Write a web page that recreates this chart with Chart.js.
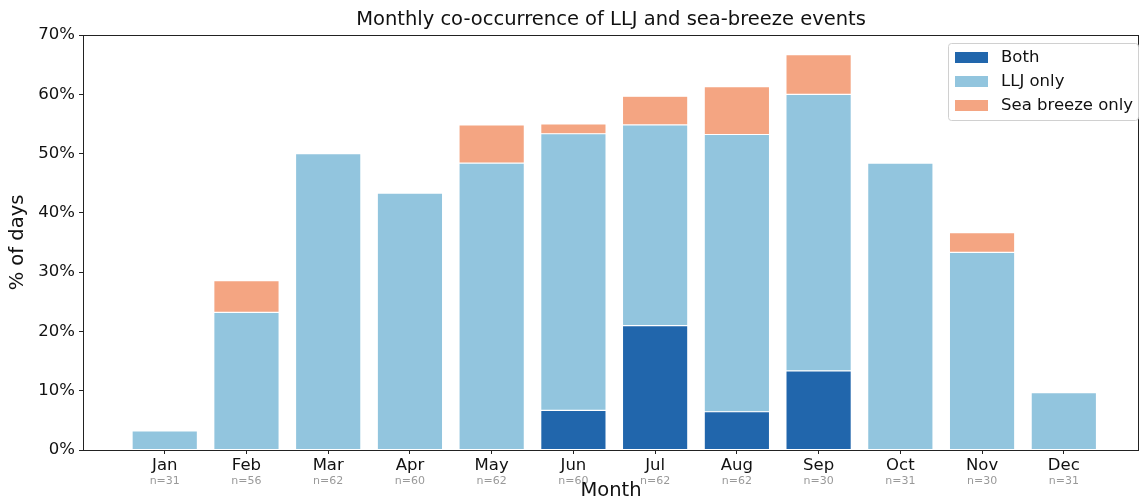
<!DOCTYPE html>
<html>
<head>
<meta charset="utf-8">
<script src="https://cdn.jsdelivr.net/npm/chart.js@4/dist/chart.umd.min.js"></script>
<style>
  html, body { margin: 0; padding: 0; background: #fff; }
  #wrap { width: 1140px; height: 501px; }
</style>
</head>
<body>
<div id="wrap"><canvas id="grafico" width="1140" height="501"></canvas></div>
<script>
// ---- dados ----
const meses = ['Jan','Feb','Mar','Apr','May','Jun','Jul','Aug','Sep','Oct','Nov','Dec'];
const nDias = [31, 56, 62, 60, 62, 60, 62, 62, 30, 31, 30, 31];
const ambos = [0, 0, 0, 0, 0, 6.67, 20.97, 6.45, 13.33, 0, 0, 0];
const soLLJ = [3.23, 23.21, 50.0, 43.33, 48.39, 46.67, 33.87, 46.77, 46.67, 48.39, 33.33, 9.68];
const soBrisa = [0, 5.36, 0, 0, 6.45, 1.67, 4.84, 8.06, 6.67, 0, 3.33, 0];
const yTicks = [0, 10, 20, 30, 40, 50, 60, 70];

const fonte = "'DejaVu Sans', sans-serif";
const cores = { ambos: '#2166ac', llj: '#92c5de', brisa: '#f4a582' };

const pontos = arr => arr.map((v, i) => ({ x: i, y: v }));

// ---- plugin: título, rótulos dos eixos, n=, moldura e legenda ----
const extras = {
  id: 'extras',
  afterDraw(chart) {
    const { ctx, chartArea: a, scales } = chart;
    ctx.save();

    // moldura
    ctx.strokeStyle = '#222';
    ctx.lineWidth = 1;
    ctx.strokeRect(a.left + 0.5, a.top + 0.5, a.right - a.left - 1, a.bottom - a.top);

    // título
    ctx.fillStyle = '#111';
    ctx.textAlign = 'center';
    ctx.textBaseline = 'middle';
    ctx.font = '19.5px ' + fonte;
    ctx.fillText('Monthly co-occurrence of LLJ and sea-breeze events', (a.left + a.right) / 2, 20);

    // n= por mês
    ctx.font = '11px ' + fonte;
    ctx.fillStyle = '#999';
    nDias.forEach((n, i) => {
      ctx.fillText('n=' + n, scales.x.getPixelForValue(i), 481);
    });

    // eixo x
    ctx.fillStyle = '#111';
    ctx.font = '19.5px ' + fonte;
    ctx.fillText('Month', (a.left + a.right) / 2, 491);

    // eixo y
    ctx.save();
    ctx.translate(18, (a.top + a.bottom) / 2);
    ctx.rotate(-Math.PI / 2);
    ctx.fillText('% of days', 0, 0);
    ctx.restore();

    // legenda
    const bx = 948, by = 43, bw = 190, bh = 77;
    ctx.fillStyle = 'rgba(255,255,255,0.85)';
    ctx.strokeStyle = '#d0d0d0';
    ctx.beginPath();
    ctx.roundRect(bx + 0.5, by + 0.5, bw, bh, 3);
    ctx.fill();
    ctx.stroke();
    ctx.textAlign = 'left';
    ctx.font = '16.5px ' + fonte;
    chart.data.datasets.forEach((ds, k) => {
      const y = by + 14 + k * 24;
      ctx.fillStyle = ds.backgroundColor;
      ctx.fillRect(bx + 7, y - 5, 33, 11);
      ctx.fillStyle = '#111';
      ctx.fillText(ds.label, bx + 53, y + 1);
    });

    ctx.restore();
  }
};

const ctx = document.getElementById('grafico').getContext('2d');
new Chart(ctx, {
  type: 'bar',
  data: {
    datasets: [
      { label: 'Both', data: pontos(ambos), backgroundColor: cores.ambos },
      { label: 'LLJ only', data: pontos(soLLJ), backgroundColor: cores.llj },
      { label: 'Sea breeze only', data: pontos(soBrisa), backgroundColor: cores.brisa }
    ]
  },
  options: {
    responsive: false,
    animation: false,
    layout: { padding: { top: 35, right: 1, bottom: 0, left: 0 } },
    datasets: {
      bar: { categoryPercentage: 1.0, barPercentage: 0.8, borderColor: '#fff', borderWidth: 0.6, borderSkipped: false }
    },
    plugins: { legend: { display: false }, title: { display: false }, tooltip: { enabled: false } },
    scales: {
      x: {
        type: 'linear',
        stacked: true,
        offset: false,
        min: -1,
        max: 11.92,
        afterBuildTicks: s => { s.ticks = meses.map((m, i) => ({ value: i })); },
        afterFit: s => { s.height = 51; },
        ticks: {
          callback: v => meses[v],
          font: { family: fonte, size: 16.5 },
          color: '#111',
          padding: 2,
          maxRotation: 0,
          autoSkip: false
        },
        grid: { offset: false, drawOnChartArea: false, tickLength: 4, tickColor: '#222' },
        border: { display: false }
      },
      y: {
        stacked: true,
        min: 0,
        max: 70,
        afterBuildTicks: s => { s.ticks = yTicks.map(v => ({ value: v })); },
        afterFit: s => { s.width = 83; },
        ticks: {
          callback: v => v + '%',
          font: { family: fonte, size: 16.5 },
          color: '#111',
          padding: 4
        },
        grid: { drawOnChartArea: false, tickLength: 4, tickColor: '#222' },
        border: { display: false }
      }
    }
  },
  plugins: [extras]
});
</script>
</body>
</html>
